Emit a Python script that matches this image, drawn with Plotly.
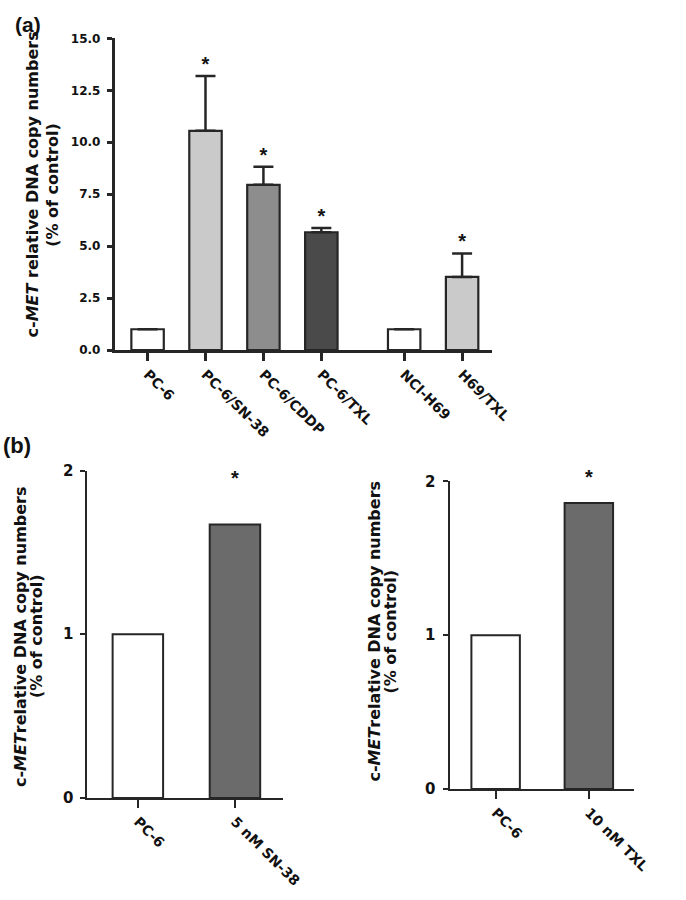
import plotly.graph_objects as go

# ---------------- data ----------------
a_categories = ["PC-6", "PC-6/SN-38", "PC-6/CDDP", "PC-6/TXL", "NCI-H69", "H69/TXL"]
a_positions = [0, 1, 2, 3, 4.43, 5.43]
a_values = [1.0, 10.55, 7.95, 5.67, 1.0, 3.52]
a_errors = [0.0, 2.64, 0.87, 0.21, 0.0, 1.13]
a_significant = [False, True, True, True, False, True]
a_colors = ["#ffffff", "#cacaca", "#8d8d8d", "#4a4a4a", "#ffffff", "#cacaca"]
a_yticks = [0.0, 2.5, 5.0, 7.5, 10.0, 12.5, 15.0]

b1_categories = ["PC-6", "5 nM SN-38"]
b1_values = [1.0, 1.67]
b1_significant = [False, True]
b2_categories = ["PC-6", "10 nM TXL"]
b2_values = [1.0, 1.86]
b2_significant = [False, True]
b_colors = ["#ffffff", "#6b6b6b"]
b_yticks = [0, 1, 2]
b1_star_level = 1.88
b2_star_level = 1.95

W, H = 686, 900
INK = "#262626"
TICKFAM = "DejaVu Sans"
TITLEFAM = "DejaVu Sans"


def px(x):
    return x / W


def py(y):
    return 1 - y / H


fig = go.Figure()
star_font = dict(family="Liberation Sans", size=20, color="#111", weight="bold")

# ---------------- panel (a) ----------------
fig.add_trace(go.Bar(
    x=a_positions, y=a_values, width=0.56,
    marker=dict(color=a_colors, line=dict(color=INK, width=2.2)),
    error_y=dict(type="data", symmetric=False, array=a_errors,
                 arrayminus=[0] * len(a_errors), color=INK, thickness=2.5, width=10),
    xaxis="x", yaxis="y", showlegend=False,
))
fig.add_trace(go.Scatter(
    x=[p for p, s in zip(a_positions, a_significant) if s],
    y=[v + e for v, e, s in zip(a_values, a_errors, a_significant) if s],
    mode="text", text=["*"] * sum(a_significant), textposition="top center",
    textfont=star_font, xaxis="x", yaxis="y", showlegend=False, cliponaxis=False,
))

# ---------------- panel (b) left ----------------
fig.add_trace(go.Bar(
    x=[0, 1], y=b1_values, width=0.52,
    marker=dict(color=b_colors, line=dict(color=INK, width=2)),
    xaxis="x2", yaxis="y2", showlegend=False,
))
fig.add_trace(go.Scatter(
    x=[i for i, s in enumerate(b1_significant) if s],
    y=[b1_star_level for s in b1_significant if s],
    mode="text", text=["*"] * sum(b1_significant), textposition="top center",
    textfont=star_font, xaxis="x2", yaxis="y2", showlegend=False, cliponaxis=False,
))

# ---------------- panel (b) right ----------------
fig.add_trace(go.Bar(
    x=[0, 1], y=b2_values, width=0.52,
    marker=dict(color=b_colors, line=dict(color=INK, width=2)),
    xaxis="x3", yaxis="y3", showlegend=False,
))
fig.add_trace(go.Scatter(
    x=[i for i, s in enumerate(b2_significant) if s],
    y=[b2_star_level for s in b2_significant if s],
    mode="text", text=["*"] * sum(b2_significant), textposition="top center",
    textfont=star_font, xaxis="x3", yaxis="y3", showlegend=False, cliponaxis=False,
))

xtickfont = dict(family=TICKFAM, size=14, color="#111", weight="bold")
ytickfont_a = dict(family=TICKFAM, size=12, color="#111", weight="bold")
ytickfont_b = dict(family=TICKFAM, size=15, color="#111", weight="bold")

common_x = dict(showline=True, linecolor=INK, linewidth=2.5, ticks="outside",
                ticklen=8, tickwidth=2.5, tickcolor=INK, showgrid=False,
                zeroline=False, tickangle=45, tickfont=xtickfont, fixedrange=True)
common_y = dict(showline=True, linecolor=INK, linewidth=2.5, ticks="outside",
                ticklen=5, tickwidth=2.5, tickcolor=INK, showgrid=False,
                zeroline=False, fixedrange=True, ticklabelstandoff=4)

fig.update_layout(
    width=W, height=H,
    margin=dict(l=0, r=0, t=0, b=0),
    paper_bgcolor="white", plot_bgcolor="white",
    xaxis=dict(common_x, domain=[px(118), px(507)], range=[-0.57, 5.95],
               tickvals=a_positions, ticktext=a_categories, anchor="y"),
    yaxis=dict(common_y, domain=[py(348), py(30)], range=[0, 15],
               tickvals=a_yticks, ticktext=["%.1f" % v for v in a_yticks],
               tickfont=ytickfont_a, anchor="x"),
    xaxis2=dict(common_x, domain=[px(90), px(292)], range=[-0.52, 1.5],
                tickvals=[0, 1], ticktext=b1_categories, anchor="y2",
                linewidth=2, tickwidth=2),
    yaxis2=dict(common_y, domain=[py(805), py(471)], range=[0, 2],
                tickvals=b_yticks, ticktext=[str(v) for v in b_yticks],
                tickfont=ytickfont_b, anchor="x2", linewidth=2, tickwidth=2),
    xaxis3=dict(common_x, domain=[px(463), px(653)], range=[-0.495, 1.484],
                tickvals=[0, 1], ticktext=b2_categories, anchor="y3",
                linewidth=2, tickwidth=2),
    yaxis3=dict(common_y, domain=[py(796), py(482)], range=[0, 2],
                tickvals=b_yticks, ticktext=[str(v) for v in b_yticks],
                tickfont=ytickfont_b, anchor="x3", linewidth=2, tickwidth=2),
)

title_font = dict(family=TITLEFAM, size=16, color="#111", weight="bold")
annots = [
    # panel labels
    dict(text="(a)", x=px(13), y=py(2), xanchor="left", yanchor="top",
         font=dict(family="Liberation Sans", size=21, color="#111", weight="bold")),
    dict(text="(b)", x=px(1), y=py(431), xanchor="left", yanchor="top",
         font=dict(family="Liberation Sans", size=22, color="#111", weight="bold")),
    # y-axis titles
    dict(text="c-<i>MET</i> relative DNA copy numbers", x=px(33), y=py(179),
         textangle=-90, font=title_font),
    dict(text="(% of control)", x=px(54), y=py(179), textangle=-90, font=title_font),
    dict(text="c-<i>MET</i>relative DNA copy numbers", x=px(20.5), y=py(640),
         textangle=-90, font=title_font),
    dict(text="(% of control)", x=px(37), y=py(640), textangle=-90, font=title_font),
    dict(text="c-<i>MET</i>relative DNA copy numbers", x=px(385.5), y=py(635),
         textangle=-90, font=title_font),
    dict(text="(% of control)", x=px(402), y=py(635), textangle=-90, font=title_font),
]
for a in annots:
    a.setdefault("xanchor", "center")
    a.setdefault("yanchor", "middle")
    fig.add_annotation(xref="paper", yref="paper", showarrow=False, **a)

fig.write_html(
    "out.html",
    config={"displayModeBar": False},
    post_script="document.body.style.margin='0';document.body.style.overflow='hidden';",
)
